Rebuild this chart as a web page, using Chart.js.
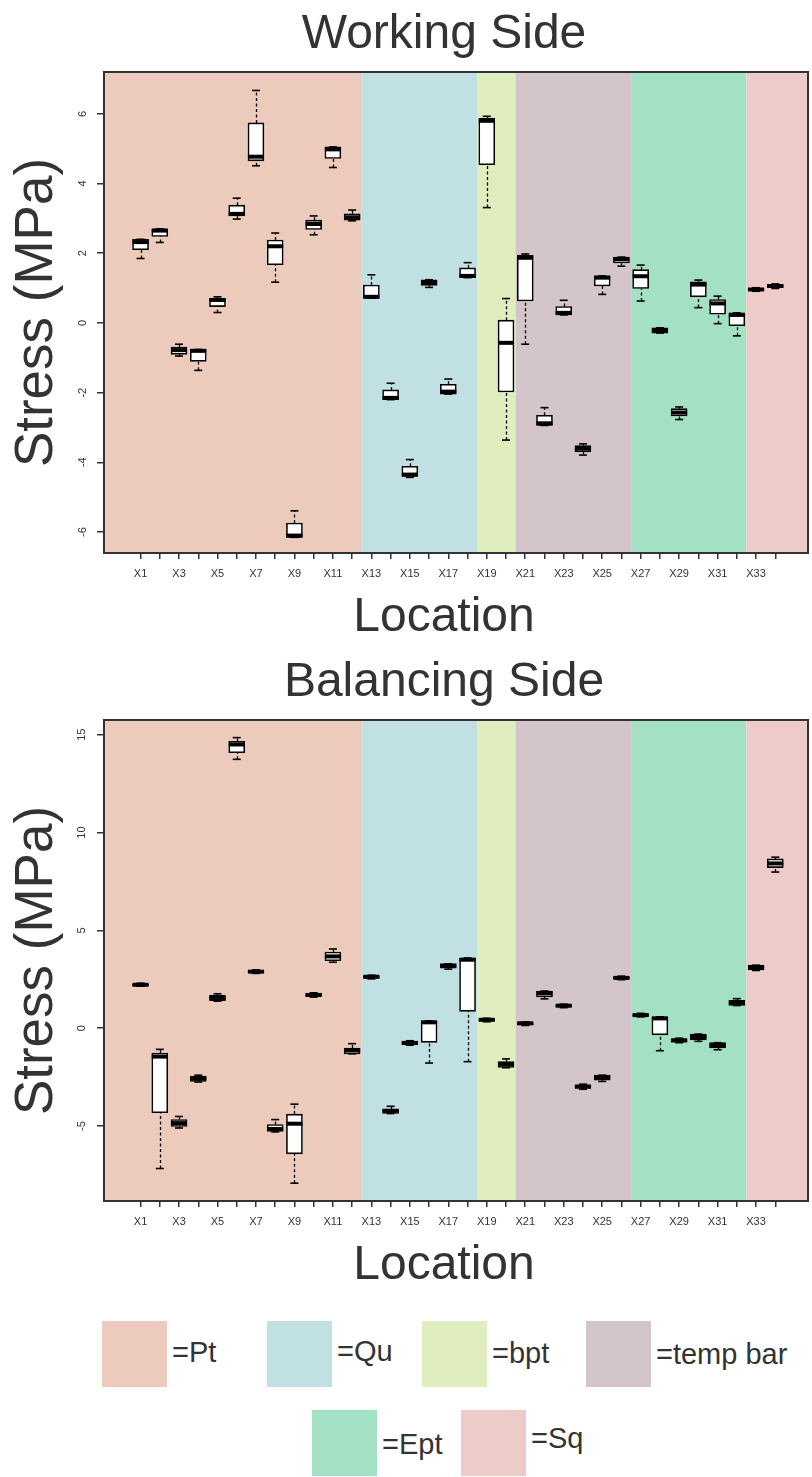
<!DOCTYPE html>
<html>
<head>
<meta charset="utf-8">
<script src="https://cdn.jsdelivr.net/npm/chart.js@4.4.1/dist/chart.umd.min.js"></script>
<style>
  body { margin: 0; width: 812px; height: 1477px; position: relative; overflow: hidden; background: #fff; font-family: "Liberation Sans", Arial, sans-serif; }
  /* canvas is a bit wider than the page: chart.js keeps 12px on the right */
  .plot { position: absolute; left: 0; width: 820px; height: 650px; }
  #boxWS { top: 0; }
  #boxBS { top: 650px; }
  .sw { position: absolute; width: 65px; height: 66px; }
  .lab { position: absolute; font-size: 29px; line-height: 29px; color: #333; white-space: nowrap; }
</style>
</head>
<body>
<div class="plot" id="boxWS"><canvas id="workingSide"></canvas></div>
<div class="plot" id="boxBS"><canvas id="balancingSide"></canvas></div>
<div id="key"></div>

<script>
const locations = ['X1', 'X2', 'X3', 'X4', 'X5', 'X6', 'X7', 'X8', 'X9', 'X10', 'X11', 'X12',
    'X13', 'X14', 'X15', 'X16', 'X17', 'X18', 'X19', 'X20', 'X21', 'X22', 'X23', 'X24',
    'X25', 'X26', 'X27', 'X28', 'X29', 'X30', 'X31', 'X32', 'X33', 'X34'];

const groupNames = ['Pt', 'Qu', 'bpt', 'temp bar', 'Ept', 'Sq'];
const groupSizes = [12, 6, 2, 6, 6, 2];
const groupColors = ['#ECCBBC', '#C1E0E4', '#E0EDBE', '#D4C4CB', '#A4E0C4', '#ECCBC9'];

// working side (MPa)
const wsMin = [1.85, 2.31, -0.95, -1.36, 0.30, 2.98, 4.51, 1.17, -6.15, 2.53, 4.46, 2.93,
    0.71, -2.20, -4.43, 1.02, -2.04, 1.30, 3.31, -3.36, -0.61, -2.94, 0.23, -3.79,
    0.82, 1.63, 0.63, -0.29, -2.77, 0.44, -0.02, -0.37, 0.91, 0.99];
const wsQ1 = [2.10, 2.48, -0.90, -1.10, 0.47, 3.07, 4.65, 1.67, -6.15, 2.68, 4.72, 2.95,
    0.71, -2.20, -4.40, 1.08, -2.04, 1.30, 4.54, -1.98, 0.63, -2.94, 0.23, -3.70,
    1.06, 1.72, 0.99, -0.29, -2.67, 0.75, 0.25, -0.08, 0.93, 1.01];
const wsMed = [2.32, 2.65, -0.78, -0.80, 0.66, 3.13, 4.77, 2.20, -6.10, 2.84, 4.98, 3.03,
    0.75, -2.15, -4.35, 1.17, -1.97, 1.35, 5.80, -0.57, 1.87, -2.88, 0.29, -3.61,
    1.30, 1.83, 1.34, -0.22, -2.57, 1.10, 0.56, 0.23, 0.96, 1.06];
const wsQ3 = [2.40, 2.70, -0.69, -0.76, 0.71, 3.38, 5.74, 2.38, -5.74, 2.95, 5.05, 3.13,
    1.09, -1.92, -4.11, 1.24, -1.76, 1.58, 5.88, 0.08, 1.94, -2.65, 0.47, -3.52,
    1.35, 1.89, 1.53, -0.14, -2.46, 1.18, 0.67, 0.29, 0.99, 1.10];
const wsMax = [2.40, 2.70, -0.61, -0.76, 0.75, 3.58, 6.67, 2.58, -5.39, 3.07, 5.05, 3.24,
    1.38, -1.73, -3.92, 1.24, -1.61, 1.73, 5.93, 0.70, 1.98, -2.43, 0.65, -3.47,
    1.35, 1.89, 1.66, -0.14, -2.41, 1.23, 0.77, 0.29, 1.01, 1.12];

// balancing side (MPa)
const bsMin = [2.15, -7.17, -5.10, -2.75, 1.38, 13.74, 2.80, -5.30, -7.92, 1.59, 3.37, -1.31,
    2.52, -4.36, -0.87, -1.78, 3.02, -1.71, 0.33, -2.02, 0.14, 1.50, 1.05, -3.12,
    -2.72, 2.48, 0.58, -1.15, -0.74, -0.67, -1.10, 1.16, 2.95, 7.98];
const bsQ1 = [2.18, -4.32, -5.02, -2.72, 1.41, 14.08, 2.84, -5.27, -6.42, 1.62, 3.45, -1.31,
    2.56, -4.36, -0.84, -0.72, 3.07, 0.86, 0.37, -2.01, 0.18, 1.60, 1.09, -3.08,
    -2.66, 2.52, 0.62, -0.34, -0.71, -0.60, -1.01, 1.16, 2.98, 8.21];
const bsMed = [2.22, -1.45, -4.85, -2.58, 1.55, 14.50, 2.89, -5.15, -4.88, 1.70, 3.67, -1.12,
    2.63, -4.22, -0.75, 0.30, 3.20, 3.50, 0.43, -1.85, 0.25, 1.78, 1.15, -2.98,
    -2.52, 2.57, 0.67, 0.50, -0.62, -0.45, -0.88, 1.30, 3.10, 8.42];
const bsQ3 = [2.26, -1.27, -4.67, -2.45, 1.69, 14.66, 2.94, -4.92, -4.39, 1.78, 3.89, -1.01,
    2.68, -4.13, -0.67, 0.37, 3.29, 3.59, 0.48, -1.71, 0.29, 1.90, 1.19, -2.90,
    -2.40, 2.62, 0.72, 0.58, -0.54, -0.30, -0.74, 1.43, 3.22, 8.65];
const bsMax = [2.30, -1.08, -4.51, -2.40, 1.76, 14.85, 2.98, -4.67, -3.88, 1.81, 4.05, -0.79,
    2.71, -3.99, -0.64, 0.37, 3.29, 3.59, 0.51, -1.57, 0.32, 1.90, 1.23, -2.86,
    -2.40, 2.66, 0.76, 0.58, -0.51, -0.30, -0.74, 1.51, 3.22, 8.74];

const wsTicks = [-6, -4, -2, 0, 2, 4, 6];
const bsTicks = [-5, 0, 5, 10, 15];

Chart.defaults.font.family = '"Liberation Sans", Arial, sans-serif';
Chart.defaults.color = '#333';

const TEXT_X = 444;

function boxChart(canvasId, title, mins, q1s, meds, q3s, maxs, yMin, yMax, yTicks, padTop, padBottom) {
    const boxes = locations.map((name, i) => ({ x: i + 1, y: [q1s[i], q3s[i]] }));
    const medians = meds.map((v, i) => ({ x: i + 1, y: v }));
    const caps = [];
    mins.forEach((v, i) => {
        caps.push({ x: i + 1, y: v });
        caps.push({ x: i + 1, y: maxs[i] });
    });

    // coloured bands, dashed whiskers, frame and big labels
    const decor = {
        id: 'decor',
        beforeDatasetsDraw(chart) {
            const { ctx, chartArea: a, scales: { x, y } } = chart;
            ctx.save();
            let edge = 0.5;
            groupSizes.forEach((n, g) => {
                const left = g === 0 ? a.left : x.getPixelForValue(edge);
                edge += n;
                const right = g === groupSizes.length - 1 ? a.right : x.getPixelForValue(edge);
                ctx.fillStyle = groupColors[g];
                ctx.fillRect(left, a.top, right - left, a.bottom - a.top);
            });
            ctx.strokeStyle = '#000';
            ctx.lineWidth = 1.3;
            ctx.setLineDash([3, 2.5]);
            mins.forEach((lo, i) => {
                const px = Math.round(x.getPixelForValue(i + 1)) + 0.5;
                ctx.beginPath();
                ctx.moveTo(px, y.getPixelForValue(lo));
                ctx.lineTo(px, y.getPixelForValue(q1s[i]));
                ctx.moveTo(px, y.getPixelForValue(q3s[i]));
                ctx.lineTo(px, y.getPixelForValue(maxs[i]));
                ctx.stroke();
            });
            ctx.restore();
        },
        afterDraw(chart) {
            const { ctx, chartArea: a } = chart;
            ctx.save();
            ctx.strokeStyle = '#333';
            ctx.lineWidth = 2;
            ctx.strokeRect(a.left, a.top, a.right - a.left, a.bottom - a.top);

            ctx.fillStyle = '#333';
            ctx.textAlign = 'center';
            ctx.textBaseline = 'alphabetic';
            ctx.font = '48px "Liberation Sans", Arial, sans-serif';
            ctx.fillText(title, TEXT_X, a.top - 24.5);
            ctx.fillText('Location', TEXT_X, a.bottom + 78);

            ctx.translate(37, (a.top + a.bottom) / 2);
            ctx.rotate(-Math.PI / 2);
            ctx.textBaseline = 'middle';
            ctx.font = '53px "Liberation Sans", Arial, sans-serif';
            ctx.fillText('Stress (MPa)', 0, 0);
            ctx.restore();
        }
    };

    return new Chart(document.getElementById(canvasId), {
        type: 'bar',
        data: {
            datasets: [{
                type: 'bar',
                data: boxes,
                backgroundColor: '#FFFFFF',
                borderColor: '#000000',
                borderWidth: 1.6,
                borderSkipped: false,
                barThickness: 16,
                order: 3
            }, {
                type: 'scatter',
                data: medians,
                pointStyle: 'line',
                pointRadius: 8,
                pointBorderWidth: 4,
                pointBorderColor: '#000000',
                order: 2
            }, {
                type: 'scatter',
                data: caps,
                pointStyle: 'line',
                pointRadius: 4,
                pointBorderWidth: 1.6,
                pointBorderColor: '#000000',
                order: 1
            }]
        },
        options: {
            responsive: true,
            maintainAspectRatio: false,
            animation: false,
            events: [],
            layout: {
                padding: { top: padTop, right: 12, bottom: padBottom, left: 0 }
            },
            plugins: {
                legend: { display: false },
                tooltip: { enabled: false },
                title: { display: false }
            },
            scales: {
                x: {
                    type: 'linear',
                    offset: false,
                    min: -0.9,
                    max: 35.7,
                    afterBuildTicks: (scale) => {
                        scale.ticks = locations.map((n, i) => ({ value: i + 1 }));
                    },
                    afterFit: (scale) => {
                        scale.height = 40;
                        scale.paddingLeft = 0;
                        scale.paddingRight = 0;
                    },
                    border: { display: false },
                    grid: {
                        offset: false,
                        drawOnChartArea: false,
                        drawTicks: true,
                        tickLength: 6,
                        color: '#333',
                        lineWidth: 1.5
                    },
                    ticks: {
                        autoSkip: false,
                        maxRotation: 0,
                        minRotation: 0,
                        padding: 8,
                        font: { size: 11 },
                        callback: (v) => (v % 2 === 1 ? locations[v - 1] : '')
                    }
                },
                y: {
                    type: 'linear',
                    min: yMin,
                    max: yMax,
                    afterBuildTicks: (scale) => {
                        scale.ticks = yTicks.map(v => ({ value: v }));
                    },
                    afterFit: (scale) => {
                        scale.width = 104;
                        scale.paddingTop = 0;
                        scale.paddingBottom = 0;
                    },
                    border: { display: false },
                    grid: {
                        drawOnChartArea: false,
                        drawTicks: true,
                        tickLength: 7,
                        color: '#333',
                        lineWidth: 1.5
                    },
                    ticks: {
                        minRotation: 90,
                        maxRotation: 90,
                        crossAlign: 'center',
                        padding: 9,
                        font: { size: 11 }
                    }
                }
            }
        },
        plugins: [decor]
    });
}

boxChart('workingSide', 'Working Side', wsMin, wsQ1, wsMed, wsQ3, wsMax, -6.6, 7.2, wsTicks, 72, 57);
boxChart('balancingSide', 'Balancing Side', bsMin, bsQ1, bsMed, bsQ3, bsMax, -8.83, 15.75, bsTicks, 70, 59);

// colour key under the plots
const keySpots = [[102, 1321, 17], [267, 1321, 16], [422, 1321, 18], [586, 1321, 19], [312, 1410, 20], [461, 1410, 14]];
const key = document.getElementById('key');
groupNames.forEach((name, g) => {
    const [left, top, dy] = keySpots[g];
    const sw = document.createElement('div');
    sw.className = 'sw';
    sw.style.left = left + 'px';
    sw.style.top = top + 'px';
    sw.style.background = groupColors[g];
    key.appendChild(sw);
    const lab = document.createElement('div');
    lab.className = 'lab';
    lab.style.left = (left + 70) + 'px';
    lab.style.top = (top + dy) + 'px';
    lab.textContent = '=' + name;
    key.appendChild(lab);
});
</script>
</body>
</html>
